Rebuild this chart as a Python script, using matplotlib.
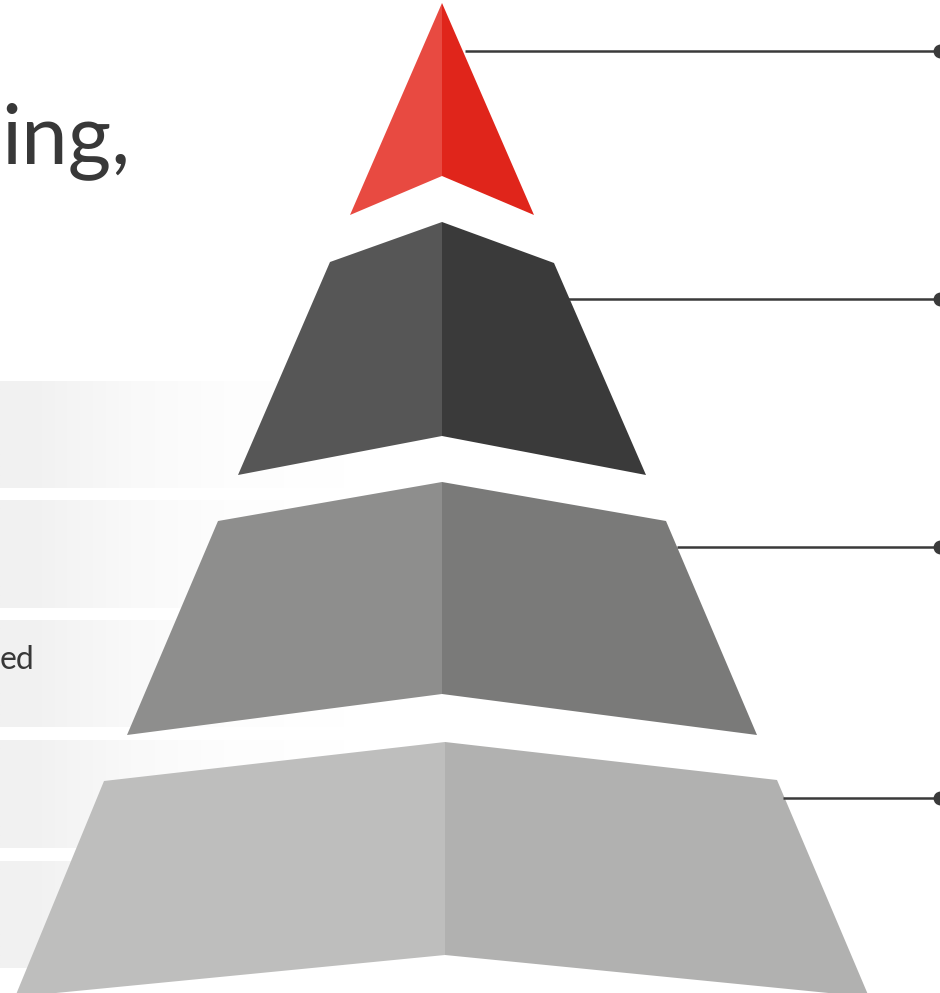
import numpy as np
import matplotlib.pyplot as plt
from matplotlib.patches import Polygon
from matplotlib.colors import LinearSegmentedColormap

# pyramid tiers, top to bottom: (left facet, right facet) in pixel coords
tier_left = [
    [(442, 3), (350, 215), (442, 176)],
    [(442, 222), (330, 262), (238, 475), (442, 436)],
    [(442, 482), (218, 521), (127, 735), (442, 694)],
    [(445, 742), (104, 781), (15, 997), (445, 955)],
]
tier_right = [
    [(442, 3), (534, 215), (442, 176)],
    [(442, 222), (554, 263), (646, 475), (442, 436)],
    [(442, 482), (666, 521), (757, 735), (442, 694)],
    [(445, 742), (777, 780), (869, 997), (445, 955)],
]
left_colors = ["#e84a41", "#565656", "#8e8e8d", "#bebebd"]
right_colors = ["#e0251b", "#3a3a3a", "#7a7a79", "#b1b1b0"]

# connector lines on the right
line_y = [51, 299, 547, 798]
line_x0 = [465, 568, 677, 783]
dot_x = 940

# grey bands behind the pyramid on the left
band_top = [381, 500, 620, 740, 861]
band_bottom = [488, 608, 727, 848, 968]

fig = plt.figure(figsize=(9.4, 9.93), dpi=100)
ax = fig.add_axes([0, 0, 1, 1])
ax.set_xlim(0, 940)
ax.set_ylim(993, 0)
ax.axis("off")

cmap = LinearSegmentedColormap.from_list(
    "band", [(0, "#f1f1f1"), (0.12, "#f2f2f2"), (0.38, "#f9f9f9"),
             (0.65, "#fdfdfd"), (1, "#ffffff")])
grad = np.linspace(0, 1, 256).reshape(1, -1)
for t, b in zip(band_top, band_bottom):
    ax.imshow(grad, cmap=cmap, vmin=0, vmax=1, extent=(0, 345, b, t),
              aspect="auto", zorder=1)

for lf, rf, lc, rc in zip(tier_left, tier_right, left_colors, right_colors):
    ax.add_patch(Polygon(lf, closed=True, facecolor=lc, edgecolor="none", zorder=3))
    ax.add_patch(Polygon(rf, closed=True, facecolor=rc, edgecolor="none", zorder=3))

for y, x0 in zip(line_y, line_x0):
    ax.plot([x0, dot_x], [y, y], color="#3a3a3a", lw=1.8, zorder=4, solid_capstyle="butt")
    ax.plot(dot_x, y, "o", ms=9, color="#3a3a3a", zorder=4, clip_on=True)

ax.text(130, 163, "ing,", ha="right", va="baseline", fontsize=60,
        family=["Lato", "DejaVu Sans"], color="#383838", zorder=5)
ax.text(34, 669, "ed", ha="right", va="baseline", fontsize=23,
        family=["Lato", "DejaVu Sans"], color="#383838", zorder=5)

ax.set_xlim(0, 940)
ax.set_ylim(993, 0)
fig.savefig("out.png", dpi=100)
